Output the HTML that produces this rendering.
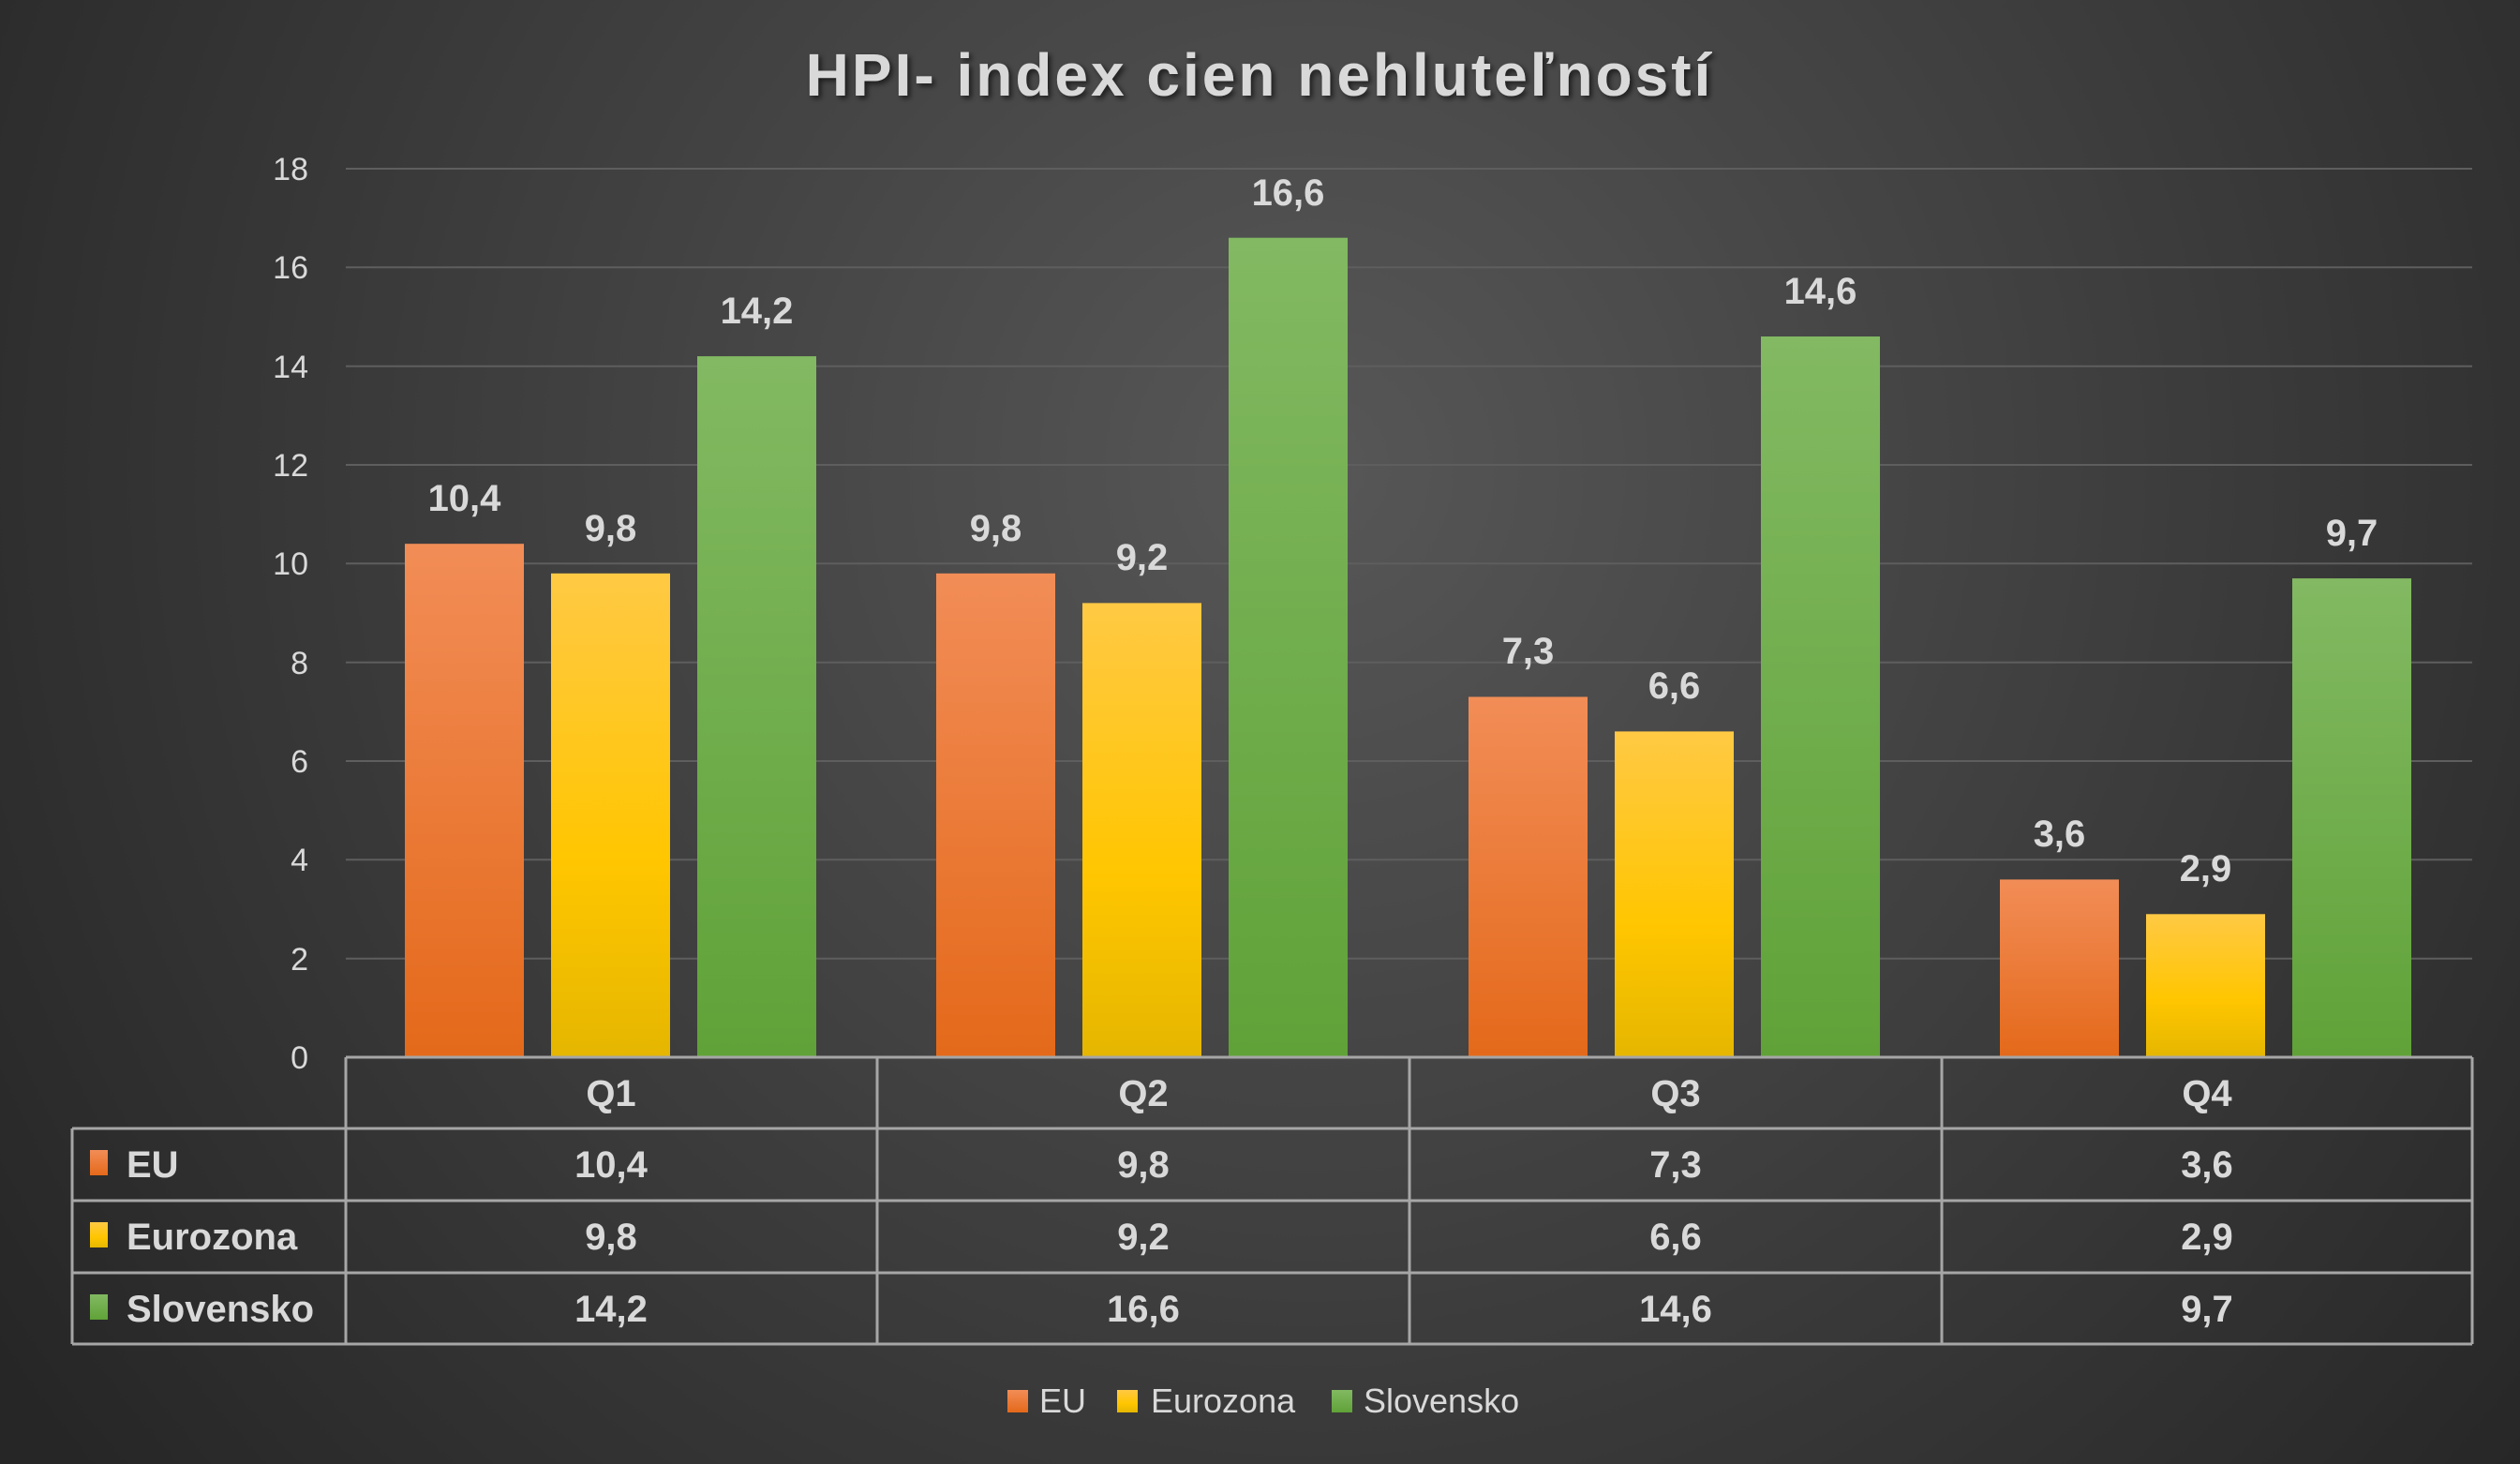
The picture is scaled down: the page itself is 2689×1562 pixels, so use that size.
<!DOCTYPE html>
<html><head><meta charset="utf-8"><style>
html,body{margin:0;padding:0;background:#333;}
svg{display:block;}
text{font-family:"Liberation Sans Narrow","Liberation Sans",sans-serif;fill:#d9d9d9;}
</style></head><body>
<svg width="2689" height="1562" viewBox="0 0 2689 1562" xmlns="http://www.w3.org/2000/svg">
<defs>
<radialGradient id="bg" cx="1400" cy="500" r="1700" gradientUnits="userSpaceOnUse">
<stop offset="0" stop-color="#575757"/><stop offset="1" stop-color="#262626"/></radialGradient>
<linearGradient id="o" x1="0" y1="0" x2="0" y2="1"><stop offset="0" stop-color="#f28d57"/><stop offset="1" stop-color="#e4691a"/></linearGradient>
<linearGradient id="y" x1="0" y1="0" x2="0" y2="1"><stop offset="0" stop-color="#ffc944"/><stop offset="0.6" stop-color="#ffc600"/><stop offset="1" stop-color="#e5b600"/></linearGradient>
<linearGradient id="g" x1="0" y1="0" x2="0" y2="1"><stop offset="0" stop-color="#82b962"/><stop offset="1" stop-color="#60a238"/></linearGradient>
<filter id="sh" x="-10%" y="-10%" width="130%" height="130%"><feDropShadow dx="3" dy="3" stdDeviation="3" flood-color="#000" flood-opacity="0.6"/></filter>
</defs>
<rect width="2689" height="1562" fill="url(#bg)"/>
<text x="1344" y="102" text-anchor="middle" font-size="64" font-weight="bold" fill="#f2f2f2" letter-spacing="3" filter="url(#sh)">HPI- index cien nehluteľností</text>
<g stroke="#5e5e5e" stroke-width="2">
<line x1="369" x2="2638" y1="1022.7" y2="1022.7"/><line x1="369" x2="2638" y1="917.3" y2="917.3"/>
<line x1="369" x2="2638" y1="812" y2="812"/><line x1="369" x2="2638" y1="706.7" y2="706.7"/>
<line x1="369" x2="2638" y1="601.3" y2="601.3"/><line x1="369" x2="2638" y1="496" y2="496"/>
<line x1="369" x2="2638" y1="390.7" y2="390.7"/><line x1="369" x2="2638" y1="285.3" y2="285.3"/>
<line x1="369" x2="2638" y1="180" y2="180"/>
</g>
<g font-size="34" text-anchor="end">
<text x="329" y="1140">0</text><text x="329" y="1035">2</text><text x="329" y="929">4</text>
<text x="329" y="824">6</text><text x="329" y="719">8</text><text x="329" y="613">10</text>
<text x="329" y="508">12</text><text x="329" y="403">14</text><text x="329" y="297">16</text>
<text x="329" y="192">18</text>
</g>
<g>
<rect x="432" y="580.2" width="127" height="547.8" fill="url(#o)"/>
<rect x="588" y="611.8" width="127" height="516.2" fill="url(#y)"/>
<rect x="744" y="380.1" width="127" height="747.9" fill="url(#g)"/>
<rect x="999" y="611.8" width="127" height="516.2" fill="url(#o)"/>
<rect x="1155" y="643.4" width="127" height="484.6" fill="url(#y)"/>
<rect x="1311" y="253.7" width="127" height="874.3" fill="url(#g)"/>
<rect x="1567" y="743.5" width="127" height="384.5" fill="url(#o)"/>
<rect x="1723" y="780.4" width="127" height="347.6" fill="url(#y)"/>
<rect x="1879" y="359" width="127" height="769" fill="url(#g)"/>
<rect x="2134" y="938.4" width="127" height="189.6" fill="url(#o)"/>
<rect x="2290" y="975.3" width="127" height="152.7" fill="url(#y)"/>
<rect x="2446" y="617.1" width="127" height="510.9" fill="url(#g)"/>
</g>
<g font-size="40" font-weight="bold" text-anchor="middle">
<text x="495.5" y="545">10,4</text><text x="651.5" y="577">9,8</text><text x="807.5" y="345">14,2</text>
<text x="1062.5" y="577">9,8</text><text x="1218.5" y="608">9,2</text><text x="1374.5" y="219">16,6</text>
<text x="1630.5" y="708">7,3</text><text x="1786.5" y="745">6,6</text><text x="1942.5" y="324">14,6</text>
<text x="2197.5" y="903">3,6</text><text x="2353.5" y="940">2,9</text><text x="2509.5" y="582">9,7</text>
</g>
<g stroke="#a6a6a6" stroke-width="3" fill="none">
<line x1="369" y1="1128" x2="2638" y2="1128"/>
<line x1="77" y1="1204" x2="2638" y2="1204"/>
<line x1="77" y1="1281" x2="2638" y2="1281"/>
<line x1="77" y1="1358" x2="2638" y2="1358"/>
<line x1="77" y1="1434" x2="2638" y2="1434"/>
<line x1="77" y1="1204" x2="77" y2="1434"/>
<line x1="369" y1="1128" x2="369" y2="1434"/>
<line x1="936" y1="1128" x2="936" y2="1434"/>
<line x1="1504" y1="1128" x2="1504" y2="1434"/>
<line x1="2072" y1="1128" x2="2072" y2="1434"/>
<line x1="2638" y1="1128" x2="2638" y2="1434"/>
</g>
<g font-size="40" font-weight="bold" text-anchor="middle">
<text x="652" y="1180">Q1</text><text x="1220" y="1180">Q2</text><text x="1788" y="1180">Q3</text><text x="2355" y="1180">Q4</text>
<text x="652" y="1256">10,4</text><text x="1220" y="1256">9,8</text><text x="1788" y="1256">7,3</text><text x="2355" y="1256">3,6</text>
<text x="652" y="1333">9,8</text><text x="1220" y="1333">9,2</text><text x="1788" y="1333">6,6</text><text x="2355" y="1333">2,9</text>
<text x="652" y="1410">14,2</text><text x="1220" y="1410">16,6</text><text x="1788" y="1410">14,6</text><text x="2355" y="1410">9,7</text>
</g>
<g font-size="40" font-weight="bold">
<rect x="96" y="1227" width="19" height="27" fill="url(#o)"/><text x="135" y="1256">EU</text>
<rect x="96" y="1304" width="19" height="27" fill="url(#y)"/><text x="135" y="1333">Eurozona</text>
<rect x="96" y="1381" width="19" height="27" fill="url(#g)"/><text x="135" y="1410">Slovensko</text>
</g>
<g font-size="36">
<rect x="1075" y="1483" width="22" height="24" fill="url(#o)"/><text x="1109" y="1507">EU</text>
<rect x="1192" y="1483" width="22" height="24" fill="url(#y)"/><text x="1228" y="1507">Eurozona</text>
<rect x="1421" y="1483" width="22" height="24" fill="url(#g)"/><text x="1455" y="1507">Slovensko</text>
</g>
</svg>
</body></html>
